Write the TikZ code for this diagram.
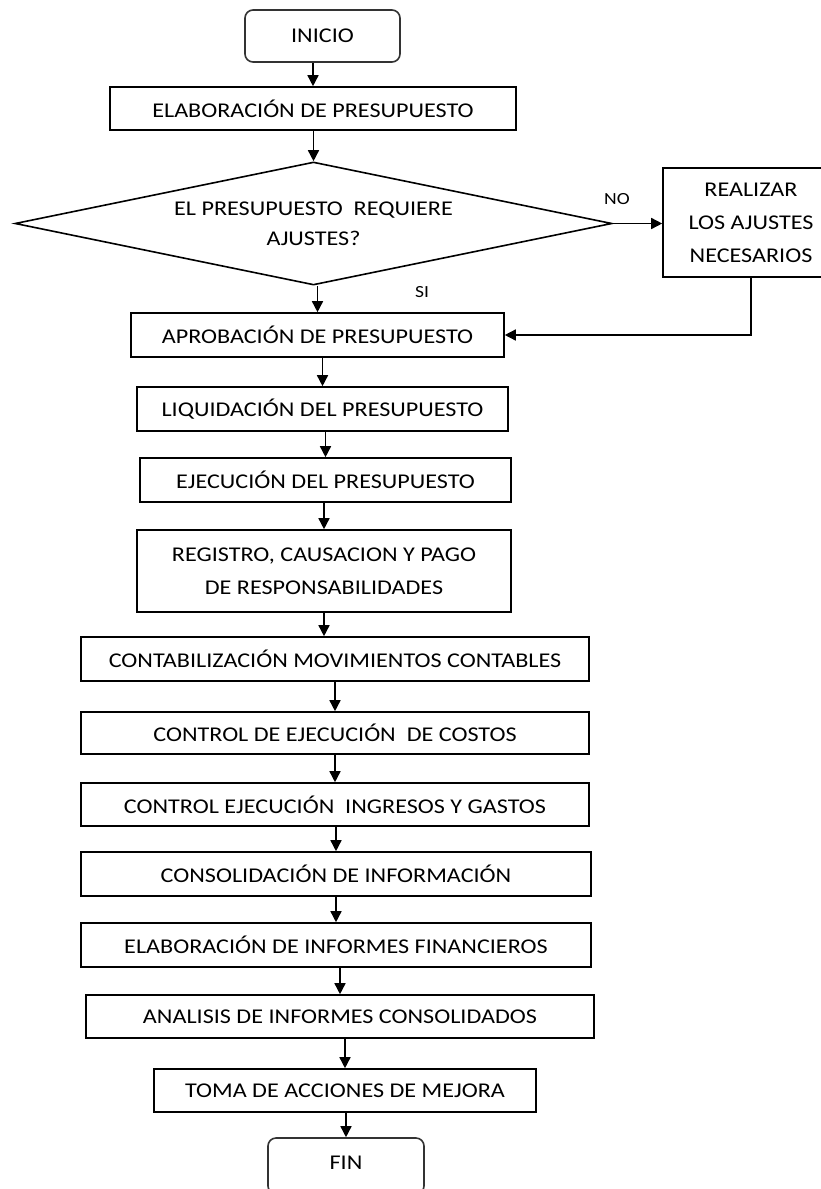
\documentclass[tikz,border=0pt]{standalone}
\usepackage{fontspec}
\setmainfont{Carlito}[FakeStretch=1.15]
\usetikzlibrary{shapes.geometric,arrows.meta}

\begin{document}
\begin{tikzpicture}[x=1pt,y=-1pt,
  txt/.style={font=\fontsize{21}{33}\selectfont},
  stepbox/.style={draw, line width=1.6pt, inner sep=0pt, align=center, txt},
  termbox/.style={stepbox, rounded corners=8pt, draw=black!80},
  decision/.style={draw, line width=1.6pt, shape=diamond, aspect=4.85,
    inner sep=0pt, align=center, font=\fontsize{21}{30}\selectfont},
  lbl/.style={font=\fontsize{17}{20}\selectfont, inner sep=0pt},
  flow/.style={line width=1.5pt, -{Triangle[length=11pt,width=11pt]}}
]
\useasboundingbox (0,0) rectangle (821,1189);
\clip (0,0) rectangle (821,1189);
\fill[white] (0,0) rectangle (821,1189);

% process steps
\node[termbox, minimum width=155pt, minimum height=52pt] (inicio) at (322.5,36) {INICIO};
\node[stepbox, minimum width=406pt, minimum height=43pt] (elab) at (313,108.5) {ELABORACIÓN DE PRESUPUESTO};
\node[decision, minimum width=597pt, minimum height=123pt] (dec) at (313.5,223.5)
  {EL PRESUPUESTO\ \ REQUIERE\\AJUSTES?};
\node[stepbox, minimum width=176pt, minimum height=109pt] (ajustes) at (751,222.5)
  {REALIZAR\\LOS AJUSTES\\NECESARIOS};
\node[stepbox, minimum width=373pt, minimum height=44pt] (aprob) at (317.5,335) {APROBACIÓN DE PRESUPUESTO};
\node[stepbox, minimum width=371pt, minimum height=44pt] (liq) at (322.5,409) {LIQUIDACIÓN DEL PRESUPUESTO};
\node[stepbox, minimum width=371pt, minimum height=44pt] (ejec) at (325.5,480) {EJECUCIÓN DEL PRESUPUESTO};
\node[stepbox, minimum width=374pt, minimum height=82pt] (reg) at (324,571)
  {REGISTRO, CAUSACION Y PAGO\\DE RESPONSABILIDADES};
\node[stepbox, minimum width=508pt, minimum height=44pt] (contab) at (335,659) {CONTABILIZACIÓN MOVIMIENTOS CONTABLES};
\node[stepbox, minimum width=508pt, minimum height=42pt] (costos) at (335,733) {CONTROL DE EJECUCIÓN\ \ DE COSTOS};
\node[stepbox, minimum width=508pt, minimum height=43pt] (ingresos) at (335,804.5) {CONTROL EJECUCIÓN\ \ INGRESOS Y GASTOS};
\node[stepbox, minimum width=510pt, minimum height=44pt] (consol) at (336,874) {CONSOLIDACIÓN DE INFORMACIÓN};
\node[stepbox, minimum width=510pt, minimum height=44pt] (informes) at (336,945) {ELABORACIÓN DE INFORMES FINANCIEROS};
\node[stepbox, minimum width=508pt, minimum height=43pt] (analisis) at (340,1016.5) {ANALISIS DE INFORMES CONSOLIDADOS};
\node[stepbox, minimum width=382pt, minimum height=43pt] (mejora) at (345,1090.5) {TOMA DE ACCIONES DE MEJORA};
\node[termbox, minimum width=156pt, minimum height=56pt, text depth=0pt] (fin) at (346,1166) {\raisebox{6pt}{FIN}};

% branch labels
\node[lbl] (no) at (617,199) {NO};
\node[lbl] (si) at (422,292) {SI};

% connectors
\draw[flow] (elab.north |- inicio.south) -- (elab.north);
\draw[flow] (dec.north |- elab.south) -- (dec.north);
\draw[flow] (dec.east) -- (dec.east -| ajustes.west);
\draw[flow] (aprob.north |- dec.south) -- (aprob.north);
\draw[flow] (ajustes.south) |- (aprob.east);
\draw[flow] (liq.north |- aprob.south) -- (liq.north);
\draw[flow] (ejec.north |- liq.south) -- (ejec.north);
\draw[flow] (reg.north |- ejec.south) -- (reg.north);
\draw[flow] (reg.south) -- (reg.south |- contab.north);
\draw[flow] (costos.north |- contab.south) -- (costos.north);
\draw[flow] (ingresos.north |- costos.south) -- (ingresos.north);
\draw[flow] (consol.north |- ingresos.south) -- (consol.north);
\draw[flow] (informes.north |- consol.south) -- (informes.north);
\draw[flow] (analisis.north |- informes.south) -- (analisis.north);
\draw[flow] (mejora.north |- analisis.south) -- (mejora.north);
\draw[flow] (fin.north |- mejora.south) -- (fin.north);
\end{tikzpicture}
\end{document}
